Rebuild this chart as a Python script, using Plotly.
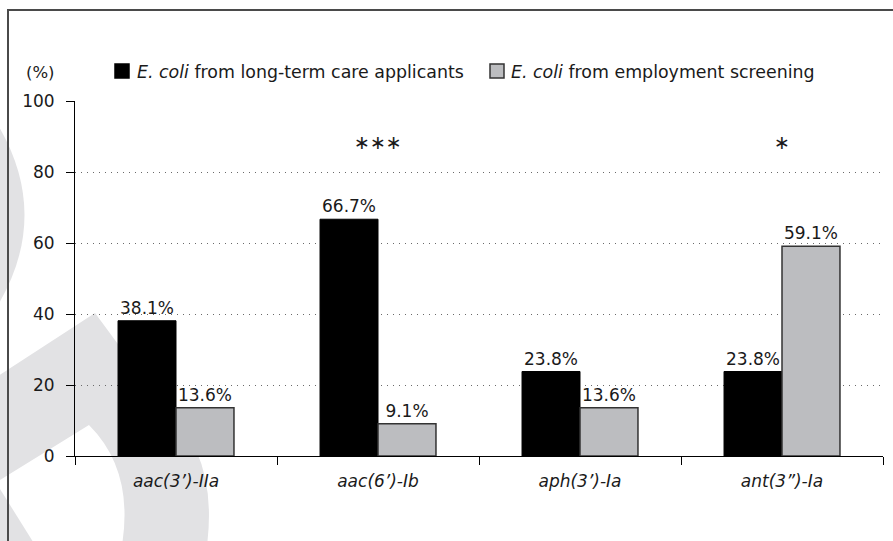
import plotly.graph_objects as go

# Aminoglycoside-modifying enzyme genes detected in E. coli isolates
genes = ["aac(3’)-IIa", "aac(6’)-Ib", "aph(3’)-Ia", "ant(3”)-Ia"]
long_term_care = [38.1, 66.7, 23.8, 23.8]
employment = [13.6, 9.1, 13.6, 59.1]
significance = ["", "∗∗∗", "", "∗"]
series_names = ["<i>E. coli</i> from long-term care applicants",
                "<i>E. coli</i> from employment screening"]
y_ticks = [0, 20, 40, 60, 80, 100]

W, H = 893, 541
M_L, M_R, M_T, M_B = 75, 10, 101, 85
PW, PH = W - M_L - M_R, H - M_T - M_B

FONT = "DejaVu Sans"
TXT = "#1a1a1a"
FILL = ["#000000", "#bcbdc0"]
EDGE = ["#000000", "#333333"]


def px_x(x):
    return (x - M_L) / PW


def px_y(y):
    return (H - M_B - y) / PH


def path_from(points, cmds):
    out = []
    i = 0
    for c in cmds:
        if c in "ML":
            x, y = points[i]
            out.append(f"{c} {px_x(x):.4f},{px_y(y):.4f}")
            i += 1
        elif c == "Q":
            (cx, cy), (x, y) = points[i], points[i + 1]
            out.append(f"Q {px_x(cx):.4f},{px_y(cy):.4f} {px_x(x):.4f},{px_y(y):.4f}")
            i += 2
        elif c == "Z":
            out.append("Z")
    return " ".join(out)


fig = go.Figure()

for name, vals, fill, edge, lw in zip(series_names, [long_term_care, employment],
                                      FILL, EDGE, [1, 1.5]):
    fig.add_trace(go.Bar(
        x=genes, y=vals, name=name, showlegend=False,
        marker=dict(color=fill, line=dict(color=edge, width=lw)),
        text=[f"{v:.1f}%" for v in vals],
        textposition="outside", constraintext="none", cliponaxis=False,
        textfont=dict(family=FONT, size=17, color=TXT),
    ))

annotations = []
for g, s in zip(genes, significance):
    if s:
        annotations.append(dict(
            x=g, y=88.5, xref="x", yref="y", text=s, showarrow=False,
            font=dict(family=FONT, size=19, color=TXT),
            yanchor="middle",
        ))
annotations.append(dict(
    x=px_x(40), y=px_y(72), xref="paper", yref="paper", text="(%)",
    showarrow=False, font=dict(family=FONT, size=16.5, color=TXT),
    xanchor="center", yanchor="middle",
))

# legend: swatch + label per series
legend_swatch_x = [115, 490]
legend_text_x = [135, 509]
shapes = []
for name, sx, tx, fill, edge in zip(series_names, legend_swatch_x, legend_text_x, FILL, EDGE):
    shapes.append(dict(
        type="rect", xref="paper", yref="paper",
        x0=px_x(sx), x1=px_x(sx + 14), y0=px_y(64), y1=px_y(78),
        fillcolor=fill, line=dict(color=edge, width=1.5),
    ))
    annotations.append(dict(
        x=px_x(tx), y=px_y(72), xref="paper", yref="paper", text=name,
        showarrow=False, font=dict(family=FONT, size=17.4, color=TXT),
        xanchor="left", yanchor="middle",
    ))

WM = "#e2e2e4"
shapes += [
    # faint background emblem
    dict(type="path", xref="paper", yref="paper", layer="below",
         fillcolor=WM, line=dict(width=0),
         path=path_from([(-5, 120), (54, 215), (-5, 310)], "MQZ")),
    dict(type="path", xref="paper", yref="paper", layer="below",
         fillcolor=WM, line=dict(width=0),
         path=path_from(
             [(-5, 378), (95, 313), (196, 450),
              (214, 490), (207, 545), (122, 545),
              (134, 470), (89, 425), (-5, 483)],
             "MLLQLQLZ")),
    dict(type="path", xref="paper", yref="paper", layer="below",
         fillcolor=WM, line=dict(width=0),
         path=path_from([(-5, 481), (35, 545), (-5, 545)], "MLLZ")),
    # outer frame
    dict(type="line", xref="paper", yref="paper",
         x0=px_x(8), x1=px_x(895), y0=px_y(10), y1=px_y(10),
         line=dict(color="#4a4a4a", width=2)),
    dict(type="line", xref="paper", yref="paper",
         x0=px_x(8), x1=px_x(8), y0=px_y(9), y1=px_y(545),
         line=dict(color="#4a4a4a", width=2)),
]

fig.update_layout(
    width=W, height=H,
    margin=dict(l=M_L, r=M_R, t=M_T, b=M_B, pad=0),
    paper_bgcolor="white", plot_bgcolor="rgba(0,0,0,0)",
    barmode="group", bargap=0.426, bargroupgap=0,
    font=dict(family=FONT, size=17, color=TXT),
    showlegend=False,
    annotations=annotations,
    shapes=shapes,
    xaxis=dict(
        type="category",
        tickmode="array", tickvals=genes,
        ticktext=[f"<i>{g}</i>" for g in genes],
        tickfont=dict(family=FONT, size=17, color=TXT),
        ticks="outside", tickson="boundaries", ticklen=8, tickwidth=1,
        tickcolor="#000", showline=True, linecolor="#000", linewidth=1,
        ticklabelstandoff=10,
        showgrid=False, zeroline=False, fixedrange=True,
    ),
    yaxis=dict(
        range=[0, 100], tickvals=y_ticks,
        tickfont=dict(family=FONT, size=17, color=TXT),
        ticks="outside", ticklen=8, tickwidth=1, tickcolor="#000",
        ticklabelstandoff=8,
        showline=True, linecolor="#000", linewidth=1,
        showgrid=True, gridcolor="#6a6a6a", gridwidth=1, griddash="1px,5px",
        zeroline=False, fixedrange=True,
    ),
)

fig.write_html("out.html")
